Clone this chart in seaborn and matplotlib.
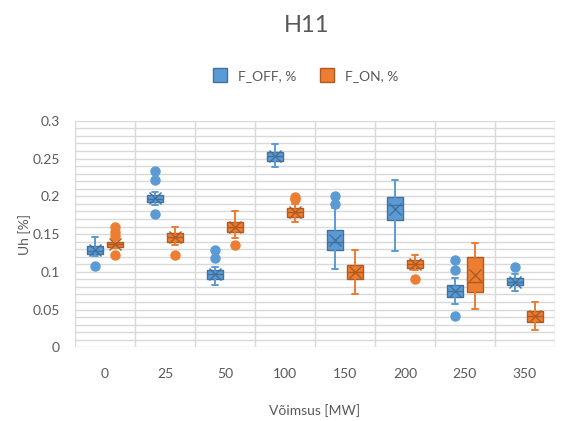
import numpy as np
import matplotlib
matplotlib.use("Agg")
import matplotlib.pyplot as plt
from matplotlib.lines import Line2D
import seaborn as sns

categories = ["0", "25", "50", "100", "150", "200", "250", "350"]

# F_OFF, % box stats
off_wlo = [0.121, 0.189, 0.082, 0.239, 0.104, 0.128, 0.058, 0.075]
off_q1 = [0.124, 0.192, 0.091, 0.247, 0.129, 0.168, 0.066, 0.082]
off_med = [0.128, 0.197, 0.097, 0.253, 0.140, 0.189, 0.074, 0.087]
off_q3 = [0.134, 0.202, 0.102, 0.259, 0.155, 0.199, 0.082, 0.092]
off_whi = [0.146, 0.206, 0.107, 0.269, 0.185, 0.221, 0.092, 0.097]
off_mean = [0.129, 0.198, 0.097, 0.253, 0.142, 0.183, 0.075, 0.087]
off_fliers = [[0.108], [0.233, 0.221, 0.176], [0.129, 0.118], [], [0.200, 0.190],
              [], [0.116, 0.103, 0.041], [0.106]]

# F_ON, % box stats
on_wlo = [0.131, 0.135, 0.145, 0.166, 0.071, 0.102, 0.051, 0.023]
on_q1 = [0.133, 0.139, 0.153, 0.173, 0.091, 0.105, 0.073, 0.034]
on_med = [0.137, 0.146, 0.159, 0.179, 0.100, 0.111, 0.086, 0.041]
on_q3 = [0.140, 0.152, 0.166, 0.185, 0.109, 0.116, 0.120, 0.048]
on_whi = [0.144, 0.160, 0.180, 0.190, 0.129, 0.122, 0.138, 0.060]
on_mean = [0.137, 0.146, 0.159, 0.179, 0.100, 0.111, 0.096, 0.041]
on_fliers = [[0.159, 0.153, 0.147, 0.122], [0.122], [0.136], [0.199, 0.197], [],
             [0.091], [], []]

series = ["F_OFF, %", "F_ON, %"]
colors = ["#5B9BD5", "#ED7D31"]
edges = ["#41719C", "#AE5A21"]

sns.set_theme(style="white")
plt.rcParams["font.family"] = ["Lato", "DejaVu Sans"]

fig = plt.figure(figsize=(5.81, 4.21), dpi=100)
ax = fig.add_axes([0.129, 0.175, 0.826, 0.538])

def make_stats(wlo, q1, med, q3, whi, mean, fliers):
    return [dict(whislo=a, q1=b, med=c, q3=d, whishi=e, mean=f, fliers=g)
            for a, b, c, d, e, f, g in zip(wlo, q1, med, q3, whi, mean, fliers)]

all_stats = [
    make_stats(off_wlo, off_q1, off_med, off_q3, off_whi, off_mean, off_fliers),
    make_stats(on_wlo, on_q1, on_med, on_q3, on_whi, on_mean, on_fliers),
]
offsets = [-0.17, 0.17]
x = np.arange(len(categories))
for stats, off, col, ec in zip(all_stats, offsets, colors, edges):
    ax.bxp(stats, positions=x + off, widths=0.27, patch_artist=True,
           showmeans=True, capwidths=0.1,
           boxprops=dict(facecolor=col, edgecolor=ec, linewidth=1.0),
           medianprops=dict(color=ec, linewidth=1.0),
           whiskerprops=dict(color=col, linewidth=1.4),
           capprops=dict(color=col, linewidth=1.4),
           meanprops=dict(marker="x", markeredgecolor=ec, markersize=8,
                          markeredgewidth=1.0),
           flierprops=dict(marker="o", markerfacecolor=col, markeredgecolor=col,
                           markersize=6.5),
           zorder=3)

ax.set_xlim(-0.5, len(categories) - 0.5)
ax.set_ylim(0, 0.3)
ax.set_xticks(x)
ax.set_xticklabels(categories)
ax.set_xticks(np.arange(len(categories) + 1) - 0.5, minor=True)
ax.set_yticks(np.arange(0, 0.31, 0.05))
ax.set_yticklabels(["0", "0.05", "0.1", "0.15", "0.2", "0.25", "0.3"])
ax.set_yticks(np.arange(0, 0.301, 0.01), minor=True)
ax.grid(which="minor", axis="both", color="#D9D9D9", linewidth=1.0, zorder=0)
ax.grid(which="major", axis="y", color="#D9D9D9", linewidth=1.0, zorder=0)
ax.tick_params(which="both", length=0, colors="#595959", labelsize=10)
ax.tick_params(axis="x", pad=15)
ax.tick_params(axis="y", pad=11)
for s in ax.spines.values():
    s.set_visible(False)
ax.set_axisbelow(True)

ax.set_ylabel("Uh [%]", color="#595959", fontsize=10, labelpad=1)
ax.set_xlabel("Võimsus [MW]", color="#595959", fontsize=10, labelpad=17)
fig.suptitle("H11", x=0.527, y=0.965, color="#595959", fontsize=17)

handles = [Line2D([], [], marker="s", linestyle="", markersize=10,
                  markerfacecolor=c, markeredgecolor=e) for c, e in zip(colors, edges)]
fig.legend(handles, series, loc="center", bbox_to_anchor=(0.52, 0.82), ncol=2,
           frameon=False, fontsize=10, labelcolor="#595959",
           handletextpad=0.3, columnspacing=1.2)

fig.savefig("out.png", dpi=100)
